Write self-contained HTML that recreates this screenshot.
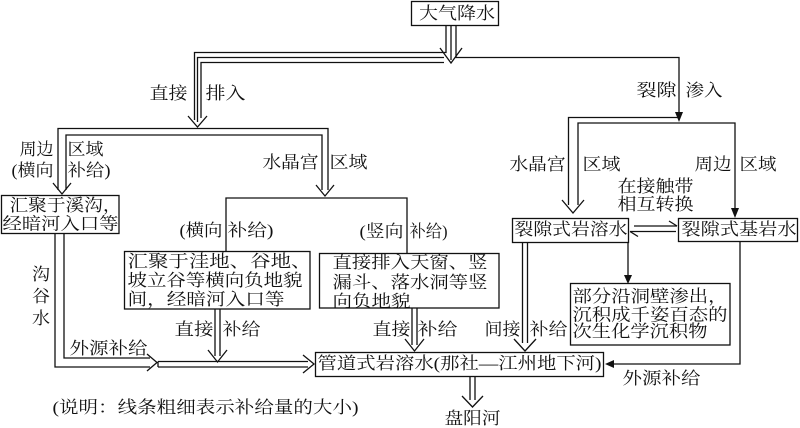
<!DOCTYPE html>
<html><head><meta charset="utf-8"><style>
html,body{margin:0;padding:0;background:#fff;width:800px;height:428px;overflow:hidden}
svg{display:block}
text{font-family:"Liberation Serif","Noto Serif CJK SC","Noto Sans CJK SC",serif;font-size:17px;fill:#111}
</style></head><body>
<svg width="800" height="428" viewBox="0 0 800 428" xmlns="http://www.w3.org/2000/svg">
<rect width="800" height="428" fill="#fff"/>
<g stroke="#111" stroke-width="1.3" fill="none">
<!-- boxes -->
<rect x="411.5" y="1.5" width="87" height="24"/>
<rect x="1.5" y="195.5" width="117.5" height="38"/>
<rect x="124.5" y="251.5" width="185.5" height="57.5"/>
<rect x="319.5" y="253.5" width="179.5" height="54.5"/>
<rect x="512.5" y="218.5" width="116" height="24"/>
<rect x="678.5" y="218.5" width="119" height="23"/>
<rect x="570.5" y="283.5" width="159.5" height="61.5"/>
<rect x="315.5" y="352.5" width="288" height="24"/>

<!-- top triple from 大气降水 -->
<path d="M446,25 V52.5 H194.5 V120"/>
<path d="M451,25 V60"/>
<path d="M444,57.5 H197.5 V122"/>
<path d="M444,62.5 H201 V118"/>
<path d="M456,25 V57.5 H679 V114"/>
<path d="M440,48 L451,63 L462,48"/>
<path d="M188,116 L197.5,127 L207,116"/>

<!-- left split -->
<path d="M58,190 V128.5 H328 V190"/>
<path d="M66,190 V135 H322 V190"/>
<path d="M53,183 L62,194 L71,183"/>
<path d="M316,185 L325,196 L334,185"/>
<path d="M226,251 V198 H407 V253"/>

<!-- right split -->
<path d="M679,117.5 H568.5 V205"/>
<path d="M578,205 V123 H735 V209"/>
<path d="M562,200 L573,213 L584,200"/>

<!-- between fracture boxes -->
<path d="M634,226 H677"/>
<path d="M669,221 L677,226"/>
<path d="M630,231.5 H676"/>
<path d="M638,236.5 L630,231.5"/>

<!-- to 部分 box -->
<path d="M628,242 V276"/>

<!-- double down from 裂隙式岩溶水 -->
<path d="M522.5,242 V343"/>
<path d="M527.5,242 V343"/>
<path d="M514,339 L525,351 L536,339"/>

<!-- right 外源 -->
<path d="M740,241 V364 H612"/>

<!-- double from 直接排入 box -->
<path d="M412,308 V345"/>
<path d="M417,308 V345"/>
<path d="M405,339 L414.5,351 L424,339"/>

<!-- double from 汇聚于洼地 box -->
<path d="M215,309 V356"/>
<path d="M220,309 V356"/>
<path d="M208,350 L217.5,362 L227,350"/>

<!-- left 沟谷水 path -->
<path d="M55,234 V367 H150"/>
<path d="M64,234 V358 H150"/>
<path d="M147,354 L157,362.5 L147,371"/>
<path d="M158,361.5 H308 M158,367 H308 M158,361.5 V367"/>
<path d="M303,355 L314,364 L303,373"/>

<!-- down to 盘阳河 -->
<path d="M470,376 V400"/>
<path d="M475,376 V400"/>
<path d="M462,396 L472.5,407 L483,396"/>
</g>
<g fill="#111" stroke="none">
<path d="M675,112 L683,112 L679,122 Z"/>
<path d="M731,208 L739,208 L735,218 Z"/>
<path d="M624,275 L632,275 L628,284 Z"/>
<path d="M614,360 L614,368 L605,364 Z"/>
</g>

<!-- text -->
<text x="419" y="19" textLength="76" lengthAdjust="spacingAndGlyphs">大气降水</text>
<text x="149.5" y="99" textLength="38" lengthAdjust="spacingAndGlyphs">直接</text>
<text x="205.5" y="99" textLength="40" lengthAdjust="spacingAndGlyphs">排入</text>
<text x="636.5" y="96" textLength="40" lengthAdjust="spacingAndGlyphs">裂隙</text>
<text x="685.5" y="96" textLength="37" lengthAdjust="spacingAndGlyphs">渗入</text>
<text x="19.5" y="155" textLength="34" lengthAdjust="spacingAndGlyphs">周边</text>
<text x="67.5" y="155" textLength="36" lengthAdjust="spacingAndGlyphs">区域</text>
<text x="11.5" y="176" textLength="42" lengthAdjust="spacingAndGlyphs">(横向</text>
<text x="67.5" y="176" textLength="43" lengthAdjust="spacingAndGlyphs">补给)</text>
<text x="262.5" y="168" textLength="56" lengthAdjust="spacingAndGlyphs">水晶宫</text>
<text x="329.5" y="168" textLength="38" lengthAdjust="spacingAndGlyphs">区域</text>
<text x="509.5" y="170" textLength="56" lengthAdjust="spacingAndGlyphs">水晶宫</text>
<text x="582.5" y="170" textLength="38" lengthAdjust="spacingAndGlyphs">区域</text>
<text x="694.5" y="170" textLength="37" lengthAdjust="spacingAndGlyphs">周边</text>
<text x="739.5" y="170" textLength="37" lengthAdjust="spacingAndGlyphs">区域</text>
<text x="617.5" y="192" textLength="76" lengthAdjust="spacingAndGlyphs">在接触带</text>
<text x="617.5" y="210" textLength="76" lengthAdjust="spacingAndGlyphs">相互转换</text>
<text x="9.5" y="211" textLength="112" lengthAdjust="spacingAndGlyphs">汇聚于溪沟，</text>
<text x="2.5" y="229.5" textLength="116" lengthAdjust="spacingAndGlyphs">经暗河入口等</text>
<text x="179.5" y="236" textLength="43" lengthAdjust="spacingAndGlyphs">(横向</text>
<text x="227.5" y="236" textLength="46" lengthAdjust="spacingAndGlyphs">补给)</text>
<text x="359.5" y="237" textLength="44" lengthAdjust="spacingAndGlyphs">(竖向</text>
<text x="409.5" y="237" textLength="38" lengthAdjust="spacingAndGlyphs">补给)</text>
<text x="127.5" y="267" textLength="184" lengthAdjust="spacingAndGlyphs">汇聚于洼地、谷地、</text>
<text x="127.5" y="286" textLength="175" lengthAdjust="spacingAndGlyphs">坡立谷等横向负地貌</text>
<text x="127.5" y="305" textLength="157" lengthAdjust="spacingAndGlyphs">间，经暗河入口等</text>
<text x="332.5" y="268" textLength="155" lengthAdjust="spacingAndGlyphs">直接排入天窗、竖</text>
<text x="332.5" y="288" textLength="155" lengthAdjust="spacingAndGlyphs">漏斗、落水洞等竖</text>
<text x="332.5" y="307" textLength="78" lengthAdjust="spacingAndGlyphs">向负地貌</text>
<text x="514.5" y="235" textLength="113" lengthAdjust="spacingAndGlyphs">裂隙式岩溶水</text>
<text x="681.5" y="235" textLength="115" lengthAdjust="spacingAndGlyphs">裂隙式基岩水</text>
<text x="572.5" y="302" textLength="155" lengthAdjust="spacingAndGlyphs">部分沿洞壁渗出，</text>
<text x="572.5" y="320.5" textLength="155" lengthAdjust="spacingAndGlyphs">沉积成千姿百态的</text>
<text x="572.5" y="337" textLength="135" lengthAdjust="spacingAndGlyphs">次生化学沉积物</text>
<text x="174.5" y="335" textLength="39" lengthAdjust="spacingAndGlyphs">直接</text>
<text x="222.5" y="335" textLength="38" lengthAdjust="spacingAndGlyphs">补给</text>
<text x="372.5" y="335" textLength="38" lengthAdjust="spacingAndGlyphs">直接</text>
<text x="417.5" y="335" textLength="40" lengthAdjust="spacingAndGlyphs">补给</text>
<text x="484.5" y="335" textLength="36" lengthAdjust="spacingAndGlyphs">间接</text>
<text x="529.5" y="335" textLength="38" lengthAdjust="spacingAndGlyphs">补给</text>
<text x="32" y="280" textLength="18" lengthAdjust="spacingAndGlyphs">沟</text>
<text x="32" y="302" textLength="18" lengthAdjust="spacingAndGlyphs">谷</text>
<text x="32" y="324" textLength="18" lengthAdjust="spacingAndGlyphs">水</text>
<text x="69.5" y="354" textLength="78" lengthAdjust="spacingAndGlyphs">外源补给</text>
<text x="317.5" y="369" textLength="284" lengthAdjust="spacingAndGlyphs">管道式岩溶水(那社—江州地下河)</text>
<text x="622.5" y="384" textLength="78" lengthAdjust="spacingAndGlyphs">外源补给</text>
<text x="444.5" y="424" textLength="56" lengthAdjust="spacingAndGlyphs">盘阳河</text>
<text x="52.5" y="413" textLength="306" lengthAdjust="spacingAndGlyphs">(说明：线条粗细表示补给量的大小)</text>
</svg>
</body></html>
